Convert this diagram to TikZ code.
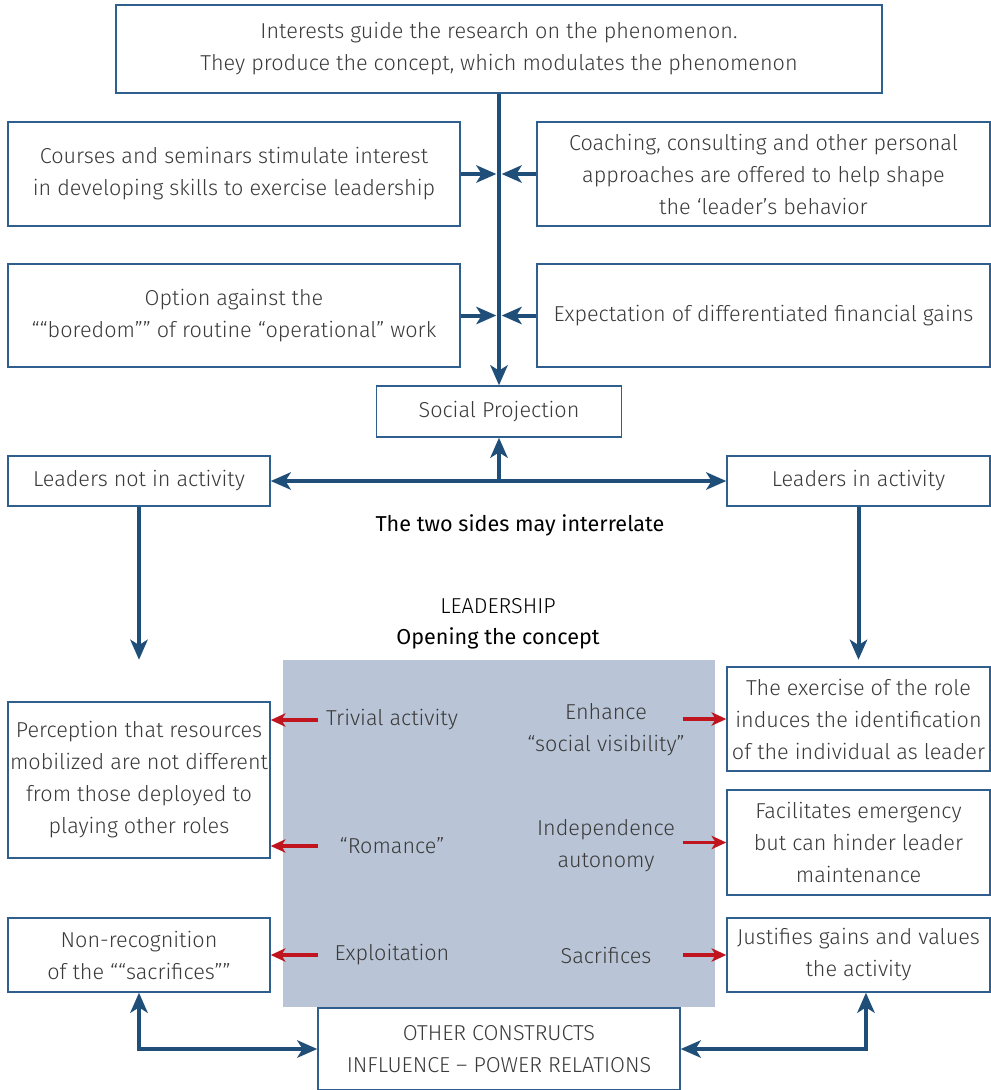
\documentclass[tikz,border=0pt]{standalone}
\usepackage{fontspec}
\setmainfont{Fira Sans}[UprightFont={* Light}]
\usetikzlibrary{arrows.meta}
\definecolor{navy}{HTML}{1F4E79}
\definecolor{frame}{HTML}{2F5F8F}
\definecolor{core}{HTML}{B9C5D6}
\definecolor{ink}{HTML}{3A3A3A}
\definecolor{tip}{HTML}{C0141E}
\tikzset{
  box/.style={draw=frame,line width=1.1pt,fill=white,align=center,text=ink,inner sep=1pt},
  lbl/.style={align=center,text=ink},
  bluearr/.style={draw=navy,line width=3pt,-{Stealth[length=15pt,width=13pt,inset=4pt]}},
  twoarr/.style={draw=navy,line width=3pt,{Stealth[length=15pt,width=13pt,inset=4pt]}-{Stealth[length=15pt,width=13pt,inset=4pt]}},
  redarr/.style={draw=tip,line width=2.4pt,-{Stealth[length=11pt,width=10pt,inset=3pt]}}
}
\begin{document}
\fontsize{16.2}{24}\selectfont
\begin{tikzpicture}[x=0.75pt,y=0.75pt,yscale=-1,xscale=1]
                  \useasboundingbox (0,0) rectangle (991,1090);
                  \node[box,minimum width=574.5pt,minimum height=66pt] (interests) at (499,49) {Interests guide the research on the phenomenon.\\They produce the concept, which modulates the phenomenon};
                  \node[box,minimum width=339pt,minimum height=78pt] (courses) at (234,174) {Courses and seminars stimulate interest\\in developing skills to exercise leadership};
                  \node[box,minimum width=339.75pt,minimum height=78pt] (coaching) at (763.5,174) {Coaching, consulting and other personal\\approaches are offered to help shape\\the ‘leader’s behavior};
                  \node[box,minimum width=339pt,minimum height=77.25pt] (option) at (234,315.5) {Option against the\\““boredom”” of routine “operational” work};
                  \node[box,minimum width=339.75pt,minimum height=77.25pt] (gains) at (763.5,315.5) {Expectation of differentiated financial gains};
                  \node[box,minimum width=183.75pt,minimum height=38.25pt] (social) at (499,411.5) {Social Projection};
                  \node[box,minimum width=196.5pt,minimum height=37.5pt] (notact) at (139,481) {Leaders not in activity};
                  \node[box,minimum width=197.25pt,minimum height=37.5pt] (inact) at (858.5,481) {Leaders in activity};
                  \draw (520,525) node[text=black] (sides) {\fontspec{Fira Sans}The two sides may interrelate};
                  \draw (498,606) node[text=black] (lead) {LEADERSHIP};
                  \draw (498,638) node[text=black] (opening) {\fontspec{Fira Sans}Opening the concept};

                  % opening the concept
                  \node[fill=core,minimum width=324pt,minimum height=260.25pt,inner sep=0pt] (core) at (499,833.5) {};
                  \node[box,minimum width=196.5pt,minimum height=117pt] (percep) at (139,780) {Perception that resources\\mobilized are not different\\from those deployed to\\playing other roles};
                  \node[box,minimum width=196.5pt,minimum height=55.5pt] (nonrec) at (139,955) {Non-recognition\\of the ““sacrifices””};
                  \node[box,minimum width=197.25pt,minimum height=78pt] (exercise) at (858.5,719) {The exercise of the role\\induces the identification\\of the individual as leader};
                  \node[box,minimum width=197.25pt,minimum height=78.75pt] (facil) at (858.5,842.5) {Facilitates emergency\\but can hinder leader\\maintenance};
                  \node[box,minimum width=197.25pt,minimum height=55.5pt] (justif) at (858.5,955) {Justifies gains and values\\the activity};
                  \node[box,minimum width=271.5pt,minimum height=61.5pt] (other) at (499,1049) {OTHER CONSTRUCTS\\INFLUENCE -- POWER RELATIONS};

                  \draw (392,720) node[lbl] (trivial) {Trivial activity};
                  \draw (392,846) node[lbl] (romance) {“Romance”};
                  \draw (392,955) node[lbl] (exploit) {Exploitation};
                  \draw (606,730) node[lbl] (enhance) {Enhance\\“social visibility”};
                  \draw (606,846) node[lbl] (indep) {Independence\\autonomy};
                  \draw (606,955) node[lbl] (sacrif) {Sacrifices};
                  \coordinate (lt) at (318,0);
                  \coordinate (rt) at (683,0);

                  \draw[bluearr] (interests.south) -- (social.north);
                  \draw[bluearr] (courses.east) -- ([xshift=-2pt]courses.east -| interests.south);
                  \draw[bluearr] (coaching.west) -- ([xshift=2pt]coaching.west -| interests.south);
                  \draw[bluearr] (option.east) -- ([xshift=-2pt]option.east -| interests.south);
                  \draw[bluearr] (gains.west) -- ([xshift=2pt]gains.west -| interests.south);
                  \draw[twoarr] (notact.east) -- (inact.west);
                  \draw[bluearr] (social.south |- notact.east) -- (social.south);
                  \draw[bluearr] (notact.south) -- (notact.south |- core.north);
                  \draw[bluearr] (inact.south) -- (inact.south |- core.north);

                  \draw[redarr] (trivial -| lt) -- (trivial -| percep.east);
                  \draw[redarr] (romance -| lt) -- (romance -| percep.east);
                  \draw[redarr] (exploit -| lt) -- (nonrec.east);
                  \draw[redarr] (exercise.west -| rt) -- (exercise.west);
                  \draw[redarr] (facil.west -| rt) -- (facil.west);
                  \draw[redarr] (justif.west -| rt) -- (justif.west);

                  \draw[twoarr] (nonrec.south) |- (other.west);
                  \draw[twoarr] ([xshift=5.6pt]justif.south) |- (other.east);
              \end{tikzpicture}
\end{document}
